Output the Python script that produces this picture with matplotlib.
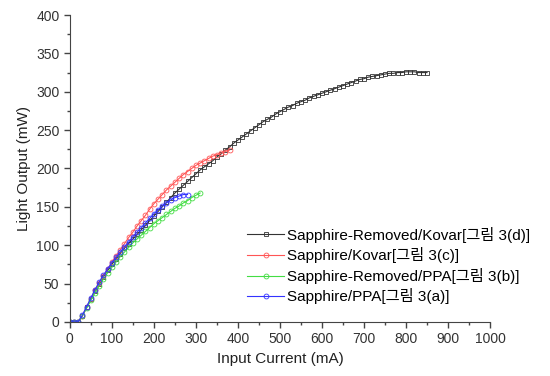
import numpy as np
import matplotlib.pyplot as plt

plt.rcParams['font.family'] = ['Liberation Sans', 'Noto Sans CJK KR']

# Input current (mA), 10 mA steps
x_black = list(range(0, 860, 10))
y_black = [0, 0, 0, 8, 19, 30, 40, 50, 59, 67,
           75, 82, 89, 96, 102, 108, 114, 120, 126, 132,
           138, 144, 150, 156, 162, 168, 173, 178, 183, 188,
           193, 198, 202, 206, 210, 215, 219, 224, 228, 233,
           237, 241, 245, 249, 253, 257, 261, 264, 267, 271,
           274, 277, 280, 282, 285, 287, 289, 292, 294, 296,
           298, 300, 302, 304, 306, 308, 310, 312, 314, 316,
           317, 319, 320, 321, 322, 323, 324, 324, 325, 325,
           326, 326, 326, 325, 325, 325]

x_red = list(range(0, 390, 10))
y_red = [0, 0, 0, 8, 19, 30, 41, 51, 60, 69,
         78, 86, 94, 102, 110, 117, 125, 132, 139, 147,
         154, 160, 166, 172, 177, 182, 187, 192, 196, 200,
         204, 207, 210, 213, 216, 218, 220, 222, 224]

x_green = list(range(0, 320, 10))
y_green = [0, 0, 0, 8, 18, 28, 38, 47, 56, 64,
           71, 78, 85, 91, 97, 103, 108, 113, 118, 123,
           128, 132, 136, 140, 144, 148, 151, 155, 158, 162,
           165, 168]

x_blue = list(range(0, 290, 10))
y_blue = [0, 0, 0, 9, 20, 31, 42, 52, 61, 69,
          77, 84, 91, 98, 104, 111, 117, 123, 129, 135,
          141, 146, 151, 155, 159, 162, 164, 166, 166]

labels = ['Sapphire-Removed/Kovar[그림 3(d)]',
          'Sapphire/Kovar[그림 3(c)]',
          'Sapphire-Removed/PPA[그림 3(b)]',
          'Sapphire/PPA[그림 3(a)]']

fig = plt.figure(figsize=(5.5, 3.76), dpi=100)
ax = fig.add_axes([0.127, 0.144, 0.764, 0.816])

ax.plot(x_black, y_black, color='#333333', marker='s', ms=3, mfc='none', mew=0.6, lw=0.8, label=labels[0])
ax.plot(x_red, y_red, color='#ff5555', marker='o', ms=3.5, mfc='none', mew=0.6, lw=0.8, label=labels[1])
ax.plot(x_green, y_green, color='#44dd44', marker='o', ms=3.5, mfc='none', mew=0.6, lw=0.8, label=labels[2])
ax.plot(x_blue, y_blue, color='#3333ff', marker='o', ms=3.5, mfc='none', mew=0.6, lw=0.8, label=labels[3])

ax.set_xlim(0, 1000)
ax.set_ylim(0, 400)
ax.set_xticks(range(0, 1001, 100))
ax.set_yticks(range(0, 401, 50))
ax.set_xticks(range(50, 1000, 100), minor=True)
ax.set_yticks(range(25, 400, 50), minor=True)
ax.spines['top'].set_visible(False)
ax.spines['right'].set_visible(False)
ax.spines['left'].set_color('#444444')
ax.spines['bottom'].set_color('#444444')
ax.tick_params(which='major', length=4, width=1, colors='#444444', labelsize=10, labelcolor='#333333')
ax.tick_params(which='minor', length=2.5, width=1, colors='#444444')

ax.set_xlabel('Input Current (mA)', fontsize=11, color='#222222')
ax.set_ylabel('Light Output (mW)', fontsize=11, color='#222222')

leg = ax.legend(loc='upper left', bbox_to_anchor=(0.39, 0.355), frameon=False,
                fontsize=11, handlelength=2.4, labelspacing=0.3, handletextpad=0.2)

plt.savefig('out.png')
